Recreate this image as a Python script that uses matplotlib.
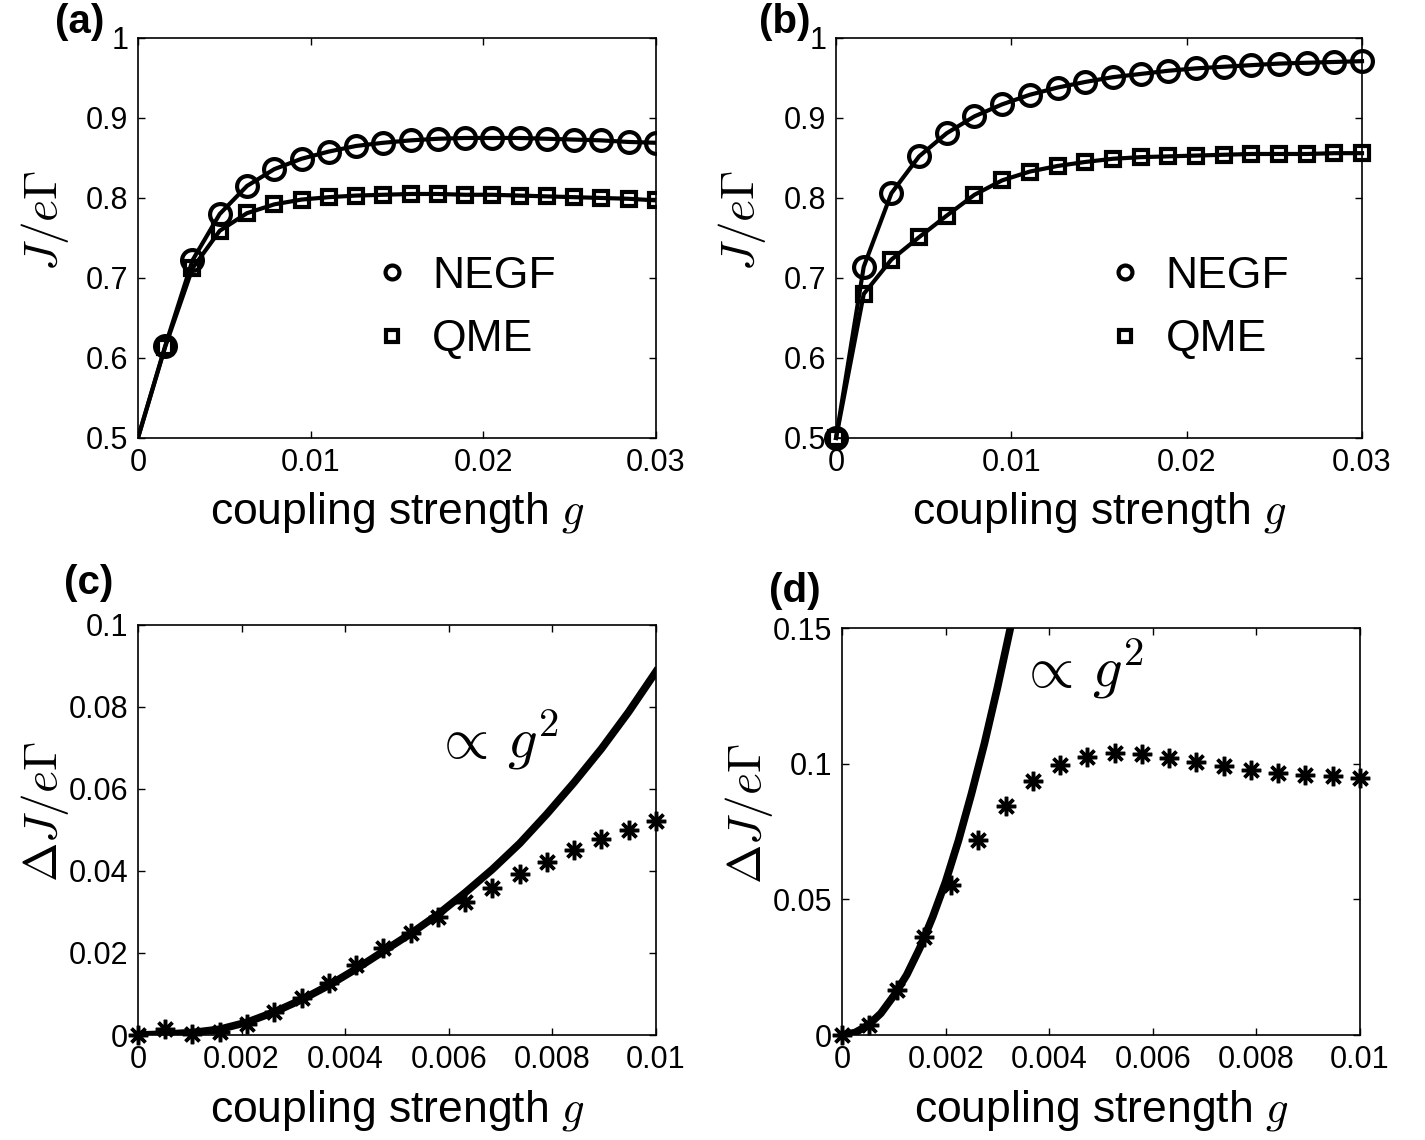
import numpy as np
import matplotlib
matplotlib.use('Agg')
import matplotlib.pyplot as plt
from matplotlib.lines import Line2D

plt.rcParams['font.family'] = ['Liberation Sans', 'DejaVu Sans']
plt.rcParams['mathtext.fontset'] = 'cm'

# ---- data ----
g_ab = np.linspace(0, 0.03, 20)
negf_a = [0.500, 0.615, 0.722, 0.780, 0.815, 0.836, 0.849, 0.858, 0.865, 0.869,
          0.872, 0.874, 0.875, 0.875, 0.875, 0.874, 0.873, 0.872, 0.870, 0.869]
qme_a = [0.500, 0.614, 0.712, 0.759, 0.781, 0.792, 0.798, 0.801, 0.803, 0.804,
         0.805, 0.805, 0.804, 0.804, 0.803, 0.802, 0.801, 0.800, 0.799, 0.797]
negf_b = [0.500, 0.714, 0.806, 0.852, 0.881, 0.902, 0.917, 0.929, 0.938, 0.945,
          0.951, 0.955, 0.959, 0.962, 0.964, 0.966, 0.968, 0.969, 0.970, 0.971]
qme_b = [0.500, 0.680, 0.723, 0.751, 0.778, 0.804, 0.822, 0.833, 0.840, 0.845,
         0.849, 0.851, 0.852, 0.853, 0.854, 0.855, 0.855, 0.855, 0.856, 0.856]

g_cd = np.linspace(0, 0.01, 20)
dJ_c = [0.0, 0.0014, 0.0002, 0.0008, 0.0026, 0.0057, 0.0091, 0.0128, 0.0170, 0.0211,
        0.0249, 0.0287, 0.0324, 0.0359, 0.0392, 0.0423, 0.0451, 0.0478, 0.0500, 0.0522]
fit_c = [0.0, 0.0002, 0.0006, 0.0014, 0.0031, 0.0056, 0.0086, 0.0121, 0.0161, 0.0204,
         0.0247, 0.0294, 0.0347, 0.0404, 0.0467, 0.0539, 0.0616, 0.0698, 0.0788, 0.0886]
dJ_d = [0.0, 0.0037, 0.0166, 0.0361, 0.0554, 0.0720, 0.0844, 0.0936, 0.0994, 0.1026,
        0.1039, 0.1034, 0.1022, 0.1006, 0.0991, 0.0977, 0.0967, 0.0957, 0.0954, 0.0948]
g_fit_d = [0, 0.00025, 0.0005, 0.00075, 0.001, 0.00125, 0.0015, 0.00175,
           0.002, 0.00225, 0.0025, 0.00275, 0.003, 0.00325, 0.0035]
fit_d = [0.0, 0.0009, 0.0035, 0.0080, 0.0145, 0.0222, 0.0320, 0.0435,
         0.0565, 0.0718, 0.0890, 0.1075, 0.1280, 0.1500, 0.1740]

xt_ab = [0, 0.01, 0.02, 0.03]
xtl_ab = ['0', '0.01', '0.02', '0.03']
yt_ab = [0.5, 0.6, 0.7, 0.8, 0.9, 1.0]
ytl_ab = ['0.5', '0.6', '0.7', '0.8', '0.9', '1']
xt_cd = [0, 0.002, 0.004, 0.006, 0.008, 0.01]
xtl_cd = ['0', '0.002', '0.004', '0.006', '0.008', '0.01']
yt_c = [0, 0.02, 0.04, 0.06, 0.08, 0.1]
ytl_c = ['0', '0.02', '0.04', '0.06', '0.08', '0.1']
yt_d = [0, 0.05, 0.1, 0.15]
ytl_d = ['0', '0.05', '0.1', '0.15']

fig = plt.figure(figsize=(14.25, 11.4), dpi=100)
ax_a = fig.add_axes([0.0968, 0.6158, 0.3635, 0.3509])
ax_b = fig.add_axes([0.5867, 0.6158, 0.3691, 0.3509])
ax_c = fig.add_axes([0.0968, 0.0921, 0.3635, 0.3597])
ax_d = fig.add_axes([0.5909, 0.0921, 0.3635, 0.3570])

tick_fs = 22
lab_fs = 32
ylab_fs = 34
asterisk = (8, 2, 0)


def style(ax, xt, xtl, yt, ytl):
    ax.set_xticks(xt)
    ax.set_xticklabels(xtl, fontsize=tick_fs)
    ax.set_yticks(yt)
    ax.set_yticklabels(ytl, fontsize=tick_fs)
    ax.tick_params(direction='in', top=True, right=True, length=5, width=1, pad=7)
    for s in ax.spines.values():
        s.set_linewidth(1.2)
    ax.set_xlabel(r'coupling strength $g$', fontsize=lab_fs)
    ax.xaxis.set_label_coords(0.5, -0.13)


# (a)
ax_a.plot(g_ab, negf_a, '-', color='k', lw=3, marker='o', ms=15, mew=3,
          mfc='none', markevery=range(1, 20))
ax_a.plot(g_ab, qme_a, '-', color='k', lw=3, marker='s', ms=10, mew=3,
          mfc='none', markevery=range(1, 20))
# (b)
ax_b.plot(g_ab, negf_b, '-', color='k', lw=3, marker='o', ms=15, mew=3,
          mfc='none', clip_on=False)
ax_b.plot(g_ab, qme_b, '-', color='k', lw=3, marker='s', ms=10, mew=3,
          mfc='none', clip_on=False)

for ax, bx in [(ax_a, 0.448), (ax_b, 0.508)]:
    ax.set_xlim(0, 0.03)
    ax.set_ylim(0.5, 1.0)
    style(ax, xt_ab, xtl_ab, yt_ab, ytl_ab)
    ax.set_ylabel(r'$J/e\Gamma$', fontsize=ylab_fs)
    ax.yaxis.set_label_coords(-0.13, 0.545)
    handles = [Line2D([], [], color='k', ls='none', marker='o', ms=10, mew=3, mfc='none'),
               Line2D([], [], color='k', ls='none', marker='s', ms=9, mew=3, mfc='none')]
    ax.legend(handles, ['NEGF', 'QME'], loc='center left', bbox_to_anchor=(bx, 0.325),
              frameon=False, fontsize=32, handlelength=1.0, handletextpad=0.4,
              borderpad=0, borderaxespad=0, labelspacing=0.5)

# (c)
ax_c.plot(g_cd, fit_c, '-', color='k', lw=5.5)
ax_c.plot(g_cd, dJ_c, ls='none', color='k', marker=asterisk, ms=14, mew=2.5,
          clip_on=False)
ax_c.set_xlim(0, 0.01)
ax_c.set_ylim(0, 0.1)
style(ax_c, xt_cd, xtl_cd, yt_c, ytl_c)
ax_c.text(0.0057, 0.072, r'$\propto\,g^2$', fontsize=42, va='center', ha='left')

# (d)
ax_d.plot(g_fit_d, fit_d, '-', color='k', lw=5.5)
ax_d.plot(g_cd, dJ_d, ls='none', color='k', marker=asterisk, ms=14, mew=2.5,
          clip_on=False)
ax_d.set_xlim(0, 0.01)
ax_d.set_ylim(0, 0.15)
style(ax_d, xt_cd, xtl_cd, yt_d, ytl_d)
ax_d.text(0.0034, 0.135, r'$\propto\,g^2$', fontsize=42, va='center', ha='left')

for ax in (ax_c, ax_d):
    ax.set_ylabel(r'$\Delta J/e\Gamma$', fontsize=ylab_fs)
    ax.yaxis.set_label_coords(-0.13, 0.544)

fig.text(0.056, 0.981, '(a)', fontsize=29, fontweight='bold', ha='center', va='center')
fig.text(0.551, 0.981, '(b)', fontsize=29, fontweight='bold', ha='center', va='center')
fig.text(0.0625, 0.489, '(c)', fontsize=29, fontweight='bold', ha='center', va='center')
fig.text(0.558, 0.482, '(d)', fontsize=29, fontweight='bold', ha='center', va='center')

fig.savefig('out.png', dpi=100)
